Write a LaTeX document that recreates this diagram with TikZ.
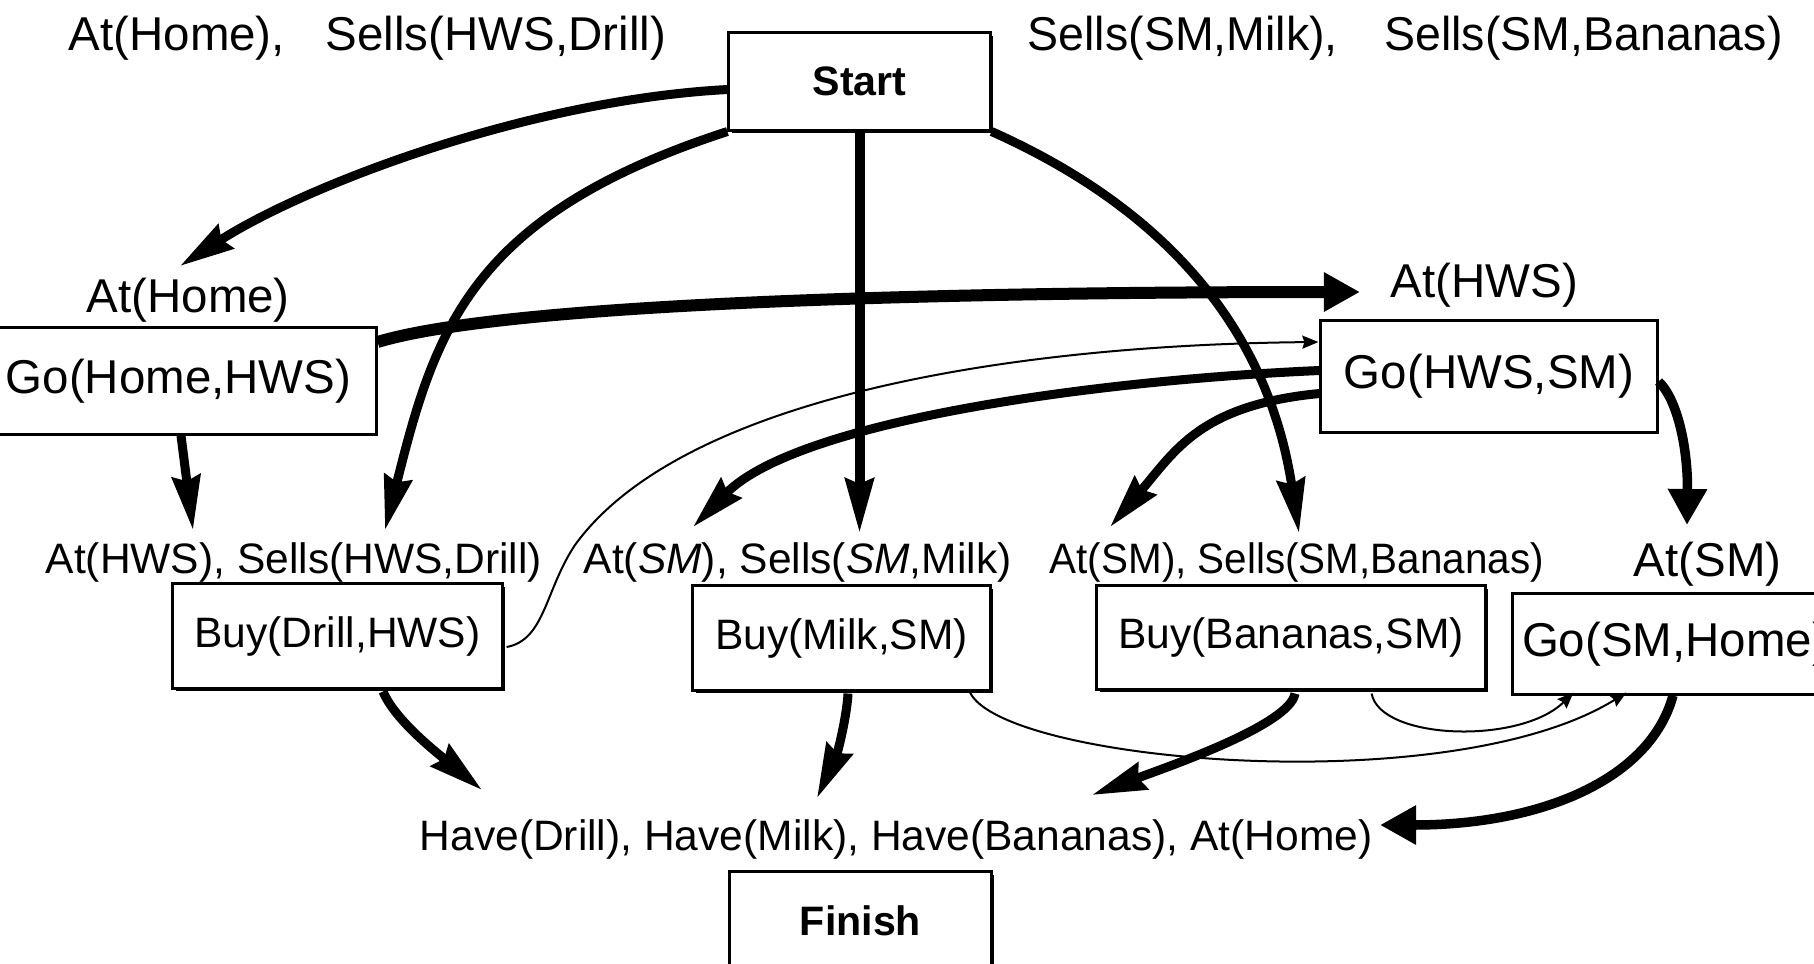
\documentclass[tikz,border=0pt]{standalone}
\usepackage{fontspec}
\usepackage{graphicx}
\setmainfont{Liberation Sans}
\usetikzlibrary{arrows.meta,calc,shadows}
\begin{document}
\begin{tikzpicture}[x=0.01cm,y=-0.01cm,
  big/.style={font=\fontsize{13.5pt}{16pt}\selectfont, inner sep=0pt},
  small/.style={font=\fontsize{12.1pt}{14pt}\selectfont, inner sep=0pt},
  box/.style={draw, line width=0.03cm, fill=white, inner sep=0pt, rectangle},
  sbox/.style={box, drop shadow={shadow xshift=0.03cm, shadow yshift=-0.03cm, opacity=1, fill=black}},
  heavy/.style={line width=0.09cm, -{Stealth[length=0.54cm,width=0.28cm,inset=0.05cm]}},
  wide/.style={line width=0.095cm, -{Triangle[length=0.36cm,width=0.37cm]}},
  fine/.style={line width=0.02cm, -{Stealth[length=0.16cm,width=0.13cm,inset=0.02cm]}},
]
\useasboundingbox (0,0) rectangle (1814,963);
\fill[white] (0,0) rectangle (1814,963);
\clip (0,0) rectangle (1814,963);

% boxes
\node[sbox, minimum width=2.61cm, minimum height=0.97cm, font=\bfseries\fontsize{11.7pt}{14pt}\selectfont] (start) at (859.5,81.5) {Start};
\node[sbox, minimum width=2.61cm, minimum height=0.97cm, font=\bfseries\fontsize{11.7pt}{14pt}\selectfont] (finish) at (860.5,920.5) {Finish};
\node[box, big, minimum width=3.95cm, minimum height=1.06cm] (gohome) at (178.5,381) {Go(Home,HWS)};
\node[box, big, minimum width=3.36cm, minimum height=1.11cm] (gohws) at (1489,376.5) {Go(HWS,SM)};
\node[sbox, small, minimum width=3.29cm, minimum height=1.04cm] (buydrill) at (337.5,636) {Buy(Drill,HWS)};
\node[sbox, small, minimum width=2.97cm, minimum height=1.04cm] (buymilk) at (841.5,638) {Buy(Milk,SM)};
\node[sbox, small, minimum width=3.88cm, minimum height=1.03cm] (buyban) at (1291,637.5) {Buy(Bananas,SM)};
\node[box, big, minimum width=3.24cm, minimum height=1.00cm] (gosmhome) at (1675,644) {Go(SM,Home)};

% labels
\node[big, anchor=base west] (init1) at (68,50) {At(Home),\hspace{0.86em}Sells(HWS,Drill)};
\node[big, anchor=base west] (init2) at (1027,50) {\scalebox{0.98}[1]{Sells(SM,Milk),\hspace{1em}Sells(SM,Bananas)}};
\node[big, anchor=base west] (athome) at (86,312) {At(Home)};
\node[big, anchor=base west] (athws) at (1390,297) {At(HWS)};
\node[big, anchor=base west] (atsm) at (1633,576) {At(SM)};
\node[small, anchor=base west] (predrill) at (45,573) {At(HWS), Sells(HWS,Drill)};
\node[small, anchor=base west] (premilk) at (583,573) {At(\textit{SM}), Sells(\textit{SM},Milk)};
\node[small, anchor=base west] (preban) at (1049,573) {\scalebox{0.95}[1]{At(SM), Sells(SM,Bananas)}};
\node[small, anchor=base west] (goal) at (419,850) {Have(Drill), Have(Milk), Have(Bananas), At(Home)};

% connectors
\draw[heavy] ($(start.west)+(0,8)$) .. controls (529,100) and (306,185) .. ($(athome.base west)+(94,-46)$);
\draw[heavy] (start.south west) .. controls (470,215) and (435,330) .. ($(predrill.base west)+(340,-43)$);
\draw[heavy, line width=0.1cm] (start.south) -- ($(premilk.base west)+(276.5,-40)$);
\draw[heavy] (start.south east) .. controls (1172,212) and (1269,335) .. ($(preban.base west)+(250,-40)$);
\draw[wide, line width=0.12cm] ($(gohome.east)+(0,-39)$) .. controls (500,305) and (900,292) .. ($(athws.base west)+(-30,-5)$);
\draw[heavy] ($(gohome.south)+(2.5,0)$) -- ($(predrill.base west)+(148,-43)$);
\draw[heavy] ($(gohws.west)+(0,-6)$) .. controls (1100,380) and (798,420) .. ($(premilk.base west)+(110,-46)$);
\draw[heavy] ($(gohws.west)+(0,17)$) .. controls (1200,405) and (1175,451) .. ($(preban.base west)+(61,-46)$);
\draw[wide] ($(gohws.east)+(0,5)$) .. controls (1678,400) and (1688,450) .. ($(atsm.base west)+(54,-51)$);
\draw[fine] ($(buydrill.east)+(3,11)$) .. controls (545,640) and (545,590) .. (575,545) .. controls (680,400) and (1000,345) .. ($(gohws.west)+(-1,-34.5)$);
\draw[heavy] ($(buydrill.south)+(45.5,2)$) .. controls (395,720) and (436,752) .. ($(goal.base west)+(63,-60)$);
\draw[heavy] ($(buymilk.south)+(6.5,2)$) .. controls (847,715) and (838,752) .. ($(goal.base west)+(398,-52)$);
\draw[fine] ($(buymilk.south east)+(-22,0)$) .. controls (1000,762) and (1450,802) .. ($(gosmhome.south west)+(115,-3)$);
\draw[heavy] ($(buyban.south)+(4,3)$) .. controls (1290,725) and (1167,767) .. ($(goal.base west)+(673,-55)$);
\draw[fine] ($(buyban.south east)+(-115,3)$) .. controls (1380,740) and (1520,745) .. ($(gosmhome.south west)+(62,-3)$);
\draw[wide] ($(gosmhome.south)+(-2,0)$) .. controls (1650,780) and (1540,825) .. ($(goal.base west)+(961,-25)$);
\end{tikzpicture}
\end{document}
